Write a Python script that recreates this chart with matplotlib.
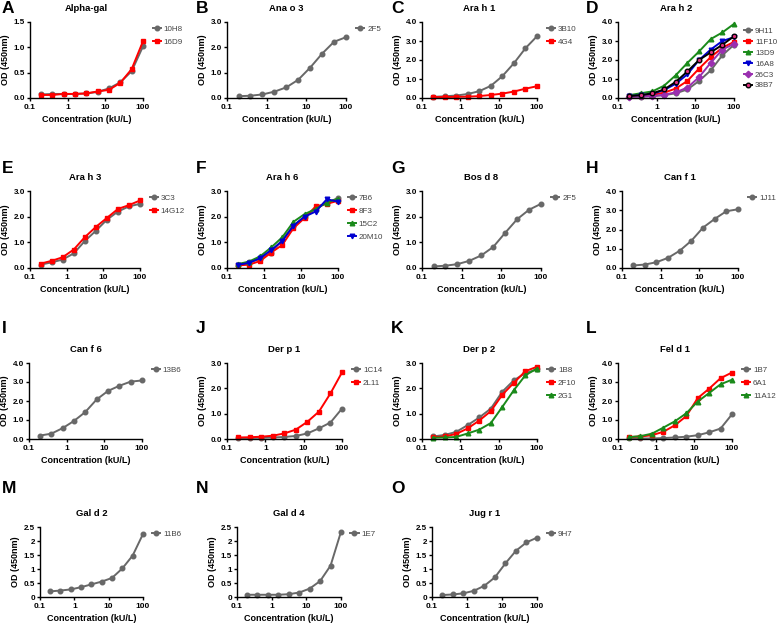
import matplotlib
matplotlib.use("Agg")
import matplotlib.pyplot as plt
from matplotlib.ticker import FixedLocator, FixedFormatter, NullLocator

plt.rcParams['font.family'] = ['Liberation Sans', 'DejaVu Sans']

conc = [0.195, 0.39, 0.78, 1.5625, 3.125, 6.25, 12.5, 25, 50, 100]

# ---- data (OD 450nm) ----
alpha_gal_10H8 = [0.07, 0.08, 0.08, 0.08, 0.09, 0.12, 0.19, 0.31, 0.53, 1.02]
alpha_gal_16D9 = [0.06, 0.06, 0.08, 0.08, 0.09, 0.13, 0.16, 0.30, 0.57, 1.12]
ana_o3_2F5 = [0.07, 0.09, 0.14, 0.25, 0.42, 0.72, 1.20, 1.75, 2.22, 2.40]
ara_h1_3B10 = [0.06, 0.09, 0.13, 0.21, 0.36, 0.64, 1.15, 1.83, 2.62, 3.25]
ara_h1_4G4 = [0.05, 0.05, 0.06, 0.07, 0.10, 0.16, 0.23, 0.34, 0.49, 0.62]
ara_h2_9H11 = [0.06, 0.07, 0.10, 0.15, 0.25, 0.45, 0.90, 1.45, 2.25, 2.80]
ara_h2_11F10 = [0.08, 0.12, 0.17, 0.28, 0.50, 0.90, 1.55, 2.15, 2.65, 2.95]
ara_h2_13D9 = [0.15, 0.25, 0.35, 0.65, 1.20, 1.85, 2.45, 3.10, 3.45, 3.90]
ara_h2_16A8 = [0.10, 0.15, 0.22, 0.42, 0.75, 1.25, 2.00, 2.55, 3.00, 3.20]
ara_h2_26C3 = [0.06, 0.08, 0.10, 0.17, 0.30, 0.55, 1.10, 1.85, 2.55, 2.85]
ara_h2_38B7 = [0.10, 0.15, 0.25, 0.45, 0.85, 1.40, 2.00, 2.40, 2.80, 3.25]
ara_h3_3C3 = [0.13, 0.22, 0.33, 0.57, 1.05, 1.45, 1.88, 2.20, 2.40, 2.50]
ara_h3_14G12 = [0.17, 0.28, 0.42, 0.72, 1.20, 1.60, 1.95, 2.30, 2.45, 2.63]
ara_h6_7B6 = [0.13, 0.22, 0.35, 0.60, 1.10, 1.65, 2.00, 2.30, 2.55, 2.72]
ara_h6_8F3 = [0.10, 0.13, 0.27, 0.60, 0.90, 1.55, 1.95, 2.40, 2.50, 2.62]
ara_h6_15C2 = [0.15, 0.25, 0.45, 0.80, 1.20, 1.80, 2.10, 2.30, 2.55, 2.70]
ara_h6_20M10 = [0.12, 0.20, 0.38, 0.70, 1.05, 1.65, 2.00, 2.20, 2.68, 2.58]
bos_d8_2F5 = [0.06, 0.09, 0.15, 0.28, 0.49, 0.82, 1.37, 1.90, 2.27, 2.50]
can_f1_1J11 = [0.13, 0.18, 0.30, 0.53, 0.90, 1.42, 2.10, 2.55, 2.95, 3.05]
can_f6_13B6 = [0.18, 0.28, 0.57, 0.95, 1.42, 2.08, 2.53, 2.80, 3.02, 3.08]
der_p1_1C14 = [0.04, 0.04, 0.05, 0.06, 0.08, 0.12, 0.22, 0.42, 0.65, 1.20]
der_p1_2L11 = [0.06, 0.07, 0.09, 0.13, 0.22, 0.37, 0.68, 1.08, 1.80, 2.63]
der_p2_1B8 = [0.10, 0.16, 0.28, 0.55, 0.85, 1.20, 1.87, 2.32, 2.60, 2.75]
der_p2_2F10 = [0.07, 0.10, 0.20, 0.42, 0.73, 1.10, 1.75, 2.22, 2.68, 2.85]
der_p2_2G1 = [0.05, 0.06, 0.08, 0.22, 0.37, 0.63, 1.27, 1.93, 2.52, 2.78]
fel_d1_1B7 = [0.03, 0.03, 0.03, 0.05, 0.08, 0.12, 0.20, 0.35, 0.55, 1.30]
fel_d1_6A1 = [0.10, 0.13, 0.20, 0.38, 0.72, 1.20, 2.15, 2.65, 3.20, 3.50]
fel_d1_11A12 = [0.10, 0.15, 0.28, 0.60, 0.93, 1.35, 1.97, 2.42, 2.88, 3.12]
gal_d2_11B6 = [0.20, 0.23, 0.27, 0.35, 0.45, 0.55, 0.68, 1.02, 1.48, 2.25]
gal_d4_1E7 = [0.08, 0.08, 0.08, 0.08, 0.10, 0.16, 0.30, 0.57, 1.12, 2.33]
jug_r1_9H7 = [0.07, 0.09, 0.13, 0.22, 0.40, 0.70, 1.20, 1.65, 1.95, 2.12]

x_ticks = [0.1, 1, 10, 100]
x_ticklabels = ['0.1', '1', '10', '100']

GREY = '#686868'
RED = '#ff0000'
GREEN = '#1a8a1a'
BLUE = '#0000d0'
PURPLE = '#9a2fb0'
PINK = '#e0307f'

S_GREY = dict(color=GREY, marker='o')
S_RED = dict(color=RED, marker='s')
S_GREEN = dict(color=GREEN, marker='^')
S_BLUE = dict(color=BLUE, marker='v')
S_PURPLE = dict(color=PURPLE, marker='D')
S_PINK = dict(color='black', marker='o', mfc=PINK, mec='black')

yt15 = ([0, 0.5, 1.0, 1.5], ['0.0', '0.5', '1.0', '1.5'])
yt3 = ([0, 1, 2, 3], ['0.0', '1.0', '2.0', '3.0'])
yt4 = ([0, 1, 2, 3, 4], ['0.0', '1.0', '2.0', '3.0', '4.0'])
yt25 = ([0, 0.5, 1, 1.5, 2, 2.5], ['0', '0.5', '1', '1.5', '2', '2.5'])

# (letter, title, (left, right, top, bottom) px, letter pos px, yticks, series)
panels = [
    ('A', 'Alpha-gal', (30, 143, 22, 98), (2, 1), yt15,
     [('10H8', alpha_gal_10H8, S_GREY), ('16D9', alpha_gal_16D9, S_RED)]),
    ('B', 'Ana o 3', (227, 346, 22, 98), (196, 1), yt3, [('2F5', ana_o3_2F5, S_GREY)]),
    ('C', 'Ara h 1', (422, 537, 22, 98), (391, 1), yt4,
     [('3B10', ara_h1_3B10, S_GREY), ('4G4', ara_h1_4G4, S_RED)]),
    ('D', 'Ara h 2', (618, 734, 22, 98), (586, 1), yt4,
     [('9H11', ara_h2_9H11, S_GREY), ('11F10', ara_h2_11F10, S_RED),
      ('13D9', ara_h2_13D9, S_GREEN), ('16A8', ara_h2_16A8, S_BLUE),
      ('26C3', ara_h2_26C3, S_PURPLE), ('38B7', ara_h2_38B7, S_PINK)]),
    ('E', 'Ara h 3', (30, 140, 191, 268), (2, 161), yt3,
     [('3C3', ara_h3_3C3, S_GREY), ('14G12', ara_h3_14G12, S_RED)]),
    ('F', 'Ara h 6', (227, 338, 191, 268), (196, 161), yt3,
     [('7B6', ara_h6_7B6, S_GREY), ('8F3', ara_h6_8F3, S_RED),
      ('15C2', ara_h6_15C2, S_GREEN), ('20M10', ara_h6_20M10, S_BLUE)]),
    ('G', 'Bos d 8', (422, 541, 191, 268), (391, 161), yt3, [('2F5', bos_d8_2F5, S_GREY)]),
    ('H', 'Can f 1', (622, 738, 191, 268), (586, 161), yt4, [('1J11', can_f1_1J11, S_GREY)]),
    ('I', 'Can f 6', (29, 142, 363, 439), (2, 321), yt4, [('13B6', can_f6_13B6, S_GREY)]),
    ('J', 'Der p 1', (227, 342, 363, 439), (196, 321), yt3,
     [('1C14', der_p1_1C14, S_GREY), ('2L11', der_p1_2L11, S_RED)]),
    ('K', 'Der p 2', (422, 537, 363, 439), (391, 321), yt3,
     [('1B8', der_p2_1B8, S_GREY), ('2F10', der_p2_2F10, S_RED),
      ('2G1', der_p2_2G1, S_GREEN)]),
    ('L', 'Fel d 1', (618, 732, 363, 439), (586, 321), yt4,
     [('1B7', fel_d1_1B7, S_GREY), ('6A1', fel_d1_6A1, S_RED),
      ('11A12', fel_d1_11A12, S_GREEN)]),
    ('M', 'Gal d 2', (40, 143, 527, 597), (2, 481), yt25, [('11B6', gal_d2_11B6, S_GREY)]),
    ('N', 'Gal d 4', (237, 341, 527, 597), (196, 481), yt25, [('1E7', gal_d4_1E7, S_GREY)]),
    ('O', 'Jug r 1', (432, 537, 527, 597), (391, 481), yt25, [('9H7', jug_r1_9H7, S_GREY)]),
]

W, H = 780, 624
fig = plt.figure(figsize=(W / 100, H / 100), dpi=100)

for letter, title, (l, r, t, b), (lx, ly), (yt, ytl), series in panels:
    ax = fig.add_axes([l / W, 1 - b / H, (r - l) / W, (b - t) / H])
    for name, vals, st in series:
        ax.plot(conc, vals, lw=1.4, ms=3.3, label=name, clip_on=False, **st)
    ax.set_xscale('log')
    ax.set_xlim(0.1, 100)
    ax.set_ylim(yt[0], yt[-1])
    ax.xaxis.set_major_locator(FixedLocator(x_ticks))
    ax.xaxis.set_major_formatter(FixedFormatter(x_ticklabels))
    ax.xaxis.set_minor_locator(NullLocator())
    ax.set_yticks(yt)
    ax.set_yticklabels(ytl)
    for s in ['top', 'right']:
        ax.spines[s].set_visible(False)
    for s in ['left', 'bottom']:
        ax.spines[s].set_linewidth(1.0)
    ax.tick_params(axis='x', labelsize=6, length=2.5, width=1, pad=1.5)
    ax.tick_params(axis='y', labelsize=5.8, length=2.5, width=1, pad=1)
    for lab in ax.get_xticklabels() + ax.get_yticklabels():
        lab.set_fontweight('bold')
    ax.set_xlabel('Concentration (kU/L)', fontsize=6.5, fontweight='bold', labelpad=3)
    ax.set_ylabel('OD (450nm)', fontsize=6.5, fontweight='bold', labelpad=2.5)
    ax.set_title(title, fontsize=6.8, fontweight='bold', pad=8)
    many = len(series) > 4
    leg = ax.legend(loc='upper left',
                    bbox_to_anchor=(1.06, 0.97 if many else 1.0), frameon=False,
                    fontsize=5.8, handlelength=1.0, handletextpad=0.35,
                    labelspacing=0.4 if many else 0.68, borderaxespad=0)
    for txt in leg.get_texts():
        txt.set_color('#444444')
    fig.text(lx / W, 1 - ly / H, letter, fontsize=12.5, fontweight='bold',
             ha='left', va='top')

fig.savefig('out.png', dpi=100)
